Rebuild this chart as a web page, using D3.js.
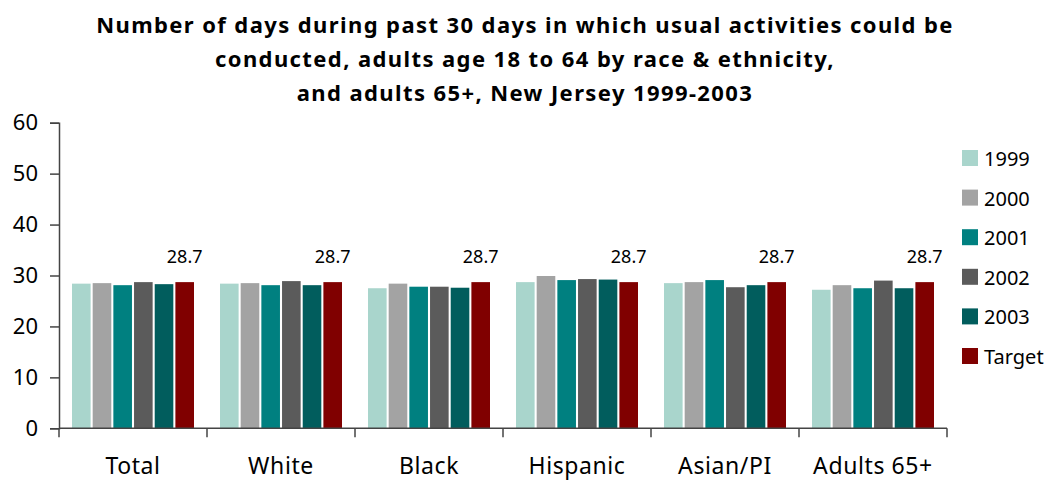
<!DOCTYPE html>
<html><head>
<meta charset="utf-8">
<script src="https://d3js.org/d3.v7.min.js"></script>
<style>
  body { margin: 0; background: #fff; }
  text { font-family: "Noto Sans", "DejaVu Sans", sans-serif; fill: #000; }
</style>
</head>
<body>
<svg id="chart" width="1054" height="480"></svg>
<script>
const categories = ["Total", "White", "Black", "Hispanic", "Asian/PI", "Adults 65+"];
const seriesNames = ["1999", "2000", "2001", "2002", "2003", "Target"];
const seriesColors = ["#a9d5cc", "#a3a3a3", "#008080", "#5b5b5b", "#015d5d", "#800000"];

// values per series, in category order
const v1999 = [28.4, 28.4, 27.5, 28.7, 28.5, 27.2];
const v2000 = [28.5, 28.5, 28.4, 29.9, 28.7, 28.1];
const v2001 = [28.1, 28.1, 27.8, 29.1, 29.1, 27.5];
const v2002 = [28.7, 28.9, 27.8, 29.3, 27.7, 29.0];
const v2003 = [28.3, 28.1, 27.6, 29.2, 28.1, 27.5];
const vTarget = [28.7, 28.7, 28.7, 28.7, 28.7, 28.7];
const allValues = [v1999, v2000, v2001, v2002, v2003, vTarget];

const yTicks = [0, 10, 20, 30, 40, 50, 60];
const titleLines = [
  "Number of days during past 30 days in which usual activities could be",
  "conducted, adults age 18 to 64 by race & ethnicity,",
  "and adults 65+, New Jersey 1999-2003"
];

const svg = d3.select("#chart");
const plotLeft = 59, plotRight = 947, plotTop = 122.7, plotBottom = 428.3;

const x0 = d3.scaleBand().domain(categories).range([plotLeft, plotRight]).padding(0);
const x1 = d3.scaleBand().domain(seriesNames)
             .range([13, x0.bandwidth() - 13]).paddingInner(0.1);
const y = d3.scaleLinear().domain([0, 60]).range([plotBottom, plotTop]);

// title
svg.append("g").selectAll("text").data(titleLines).join("text")
   .attr("x", 525).attr("y", (d, i) => 33 + i * 34)
   .attr("text-anchor", "middle")
   .attr("font-size", 22).attr("font-weight", "bold")
   .attr("letter-spacing", 1.4)
   .text(d => d);

// bars
const groups = svg.append("g").selectAll("g").data(categories).join("g")
   .attr("transform", d => `translate(${x0(d)},0)`);
groups.selectAll("rect")
   .data((c, ci) => seriesNames.map((s, si) => ({s, si, v: allValues[si][ci]})))
   .join("rect")
   .attr("x", d => x1(d.s)).attr("width", x1.bandwidth())
   .attr("y", d => y(d.v)).attr("height", d => y(0) - y(d.v))
   .attr("fill", d => seriesColors[d.si]);

// target labels
groups.append("text")
   .attr("x", x1("Target") + x1.bandwidth() / 2)
   .attr("y", (c, ci) => y(vTarget[ci]) - 19)
   .attr("text-anchor", "middle").attr("font-size", 18)
   .text((c, ci) => vTarget[ci].toFixed(1));

// y axis
const yAxis = svg.append("g").attr("transform", `translate(${plotLeft},0)`)
   .call(d3.axisLeft(y).tickValues(yTicks).tickSize(9).tickPadding(12));
yAxis.select(".domain").attr("stroke", "#444").attr("stroke-width", 1.5);
yAxis.selectAll(".tick line").attr("stroke", "#444").attr("stroke-width", 1.5);
yAxis.selectAll(".tick text").attr("font-size", 22).attr("font-family", "Noto Sans").attr("fill", "#000");

// x axis
const xAxis = svg.append("g").attr("transform", `translate(0,${plotBottom})`);
xAxis.append("line").attr("x1", plotLeft).attr("x2", plotRight)
   .attr("stroke", "#444").attr("stroke-width", 1.5);
xAxis.selectAll("line.tk").data(categories.concat(["end"])).join("line")
   .attr("class", "tk")
   .attr("x1", (d, i) => i < categories.length ? x0(d) : plotRight)
   .attr("x2", (d, i) => i < categories.length ? x0(d) : plotRight)
   .attr("y1", 0).attr("y2", 9).attr("stroke", "#444").attr("stroke-width", 1.5);
xAxis.selectAll("text").data(categories).join("text")
   .attr("x", d => x0(d) + x0.bandwidth() / 2).attr("y", 46)
   .attr("text-anchor", "middle").attr("font-size", 23)
   .attr("letter-spacing", 0.6)
   .text(d => d);

// legend
const legend = svg.append("g").selectAll("g").data(seriesNames).join("g")
   .attr("transform", (d, i) => `translate(962,${150 + i * 39.6})`);
legend.append("rect").attr("width", 16).attr("height", 16)
   .attr("fill", (d, i) => seriesColors[i]);
legend.append("text").attr("x", 22).attr("y", 16)
   .attr("font-size", 20).text(d => d);
</script>
</body>
</html>
